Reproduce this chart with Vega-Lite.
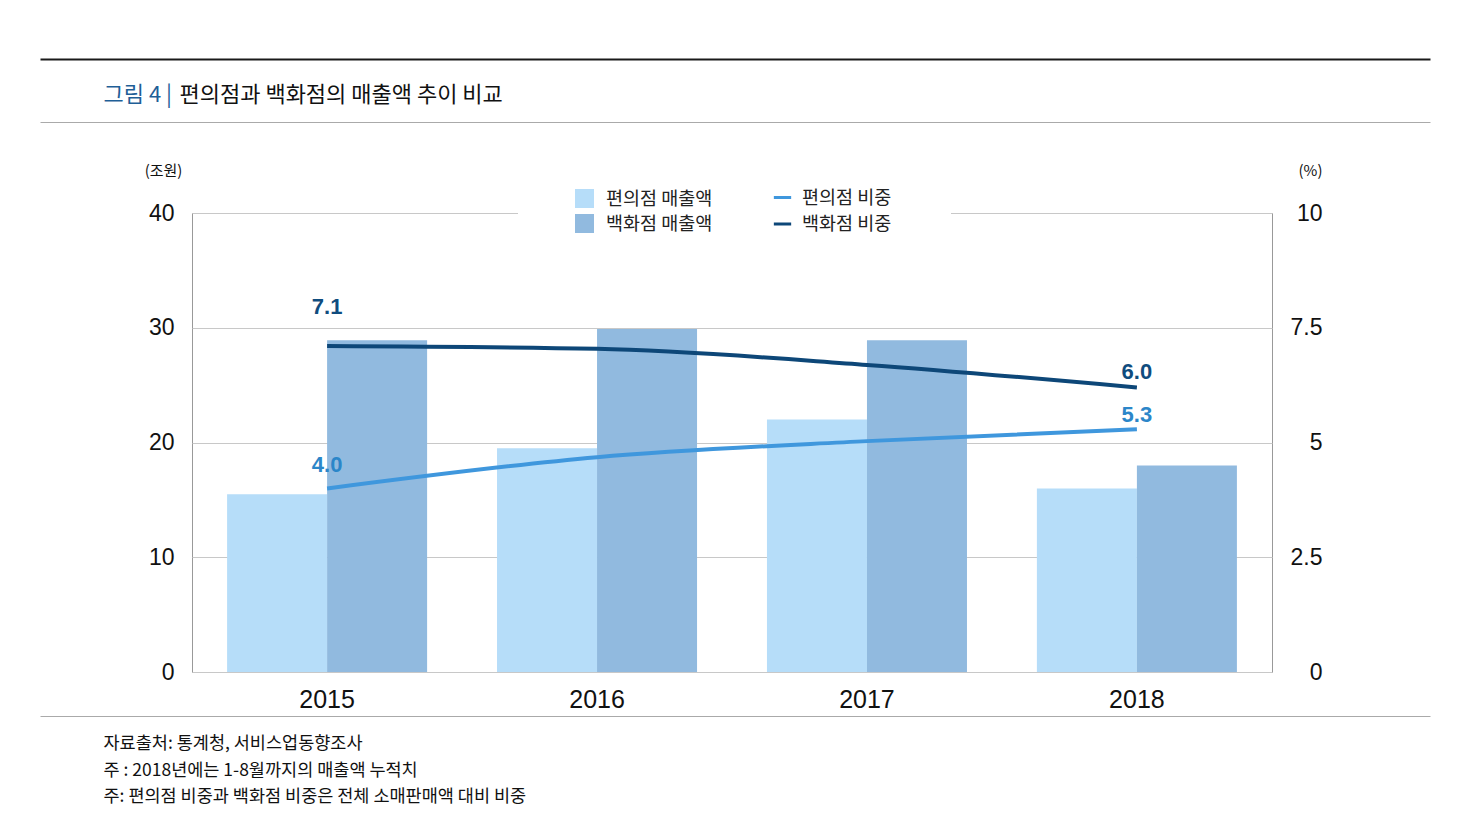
{
  "$schema": "https://vega.github.io/schema/vega-lite/v6.json",
  "autosize": {"type": "none"},
  "width": 1080,
  "height": 459,
  "padding": {"left": 192, "top": 213, "right": 200, "bottom": 156},
  "background": "white",
  "config": {
    "view": {"stroke": "#999999", "strokeWidth": 1},
    "axis": {
      "labelFont": "Liberation Sans",
      "labelColor": "#111111",
      "titleFont": "Noto Sans CJK KR",
      "titleFontWeight": "normal",
      "titleColor": "#111111"
    },
    "legend": {
      "labelFont": "Noto Sans CJK KR",
      "labelFontSize": 18.5,
      "labelColor": "#222222"
    }
  },
  "datasets": {
    "sales": [
      {"year": "2015", "type": "편의점 매출액", "value": 15.5},
      {"year": "2015", "type": "백화점 매출액", "value": 28.9},
      {"year": "2016", "type": "편의점 매출액", "value": 19.5},
      {"year": "2016", "type": "백화점 매출액", "value": 29.9},
      {"year": "2017", "type": "편의점 매출액", "value": 22.0},
      {"year": "2017", "type": "백화점 매출액", "value": 28.9},
      {"year": "2018", "type": "편의점 매출액", "value": 16.0},
      {"year": "2018", "type": "백화점 매출액", "value": 18.0}
    ],
    "share": [
      {"year": "2015", "series": "편의점 비중", "share": 4.0, "label": "4.0"},
      {"year": "2016", "series": "편의점 비중", "share": 4.68, "label": null},
      {"year": "2017", "series": "편의점 비중", "share": 5.03, "label": null},
      {"year": "2018", "series": "편의점 비중", "share": 5.29, "label": "5.3"},
      {"year": "2015", "series": "백화점 비중", "share": 7.1, "label": "7.1"},
      {"year": "2016", "series": "백화점 비중", "share": 7.04, "label": null},
      {"year": "2017", "series": "백화점 비중", "share": 6.69, "label": null},
      {"year": "2018", "series": "백화점 비중", "share": 6.2, "label": "6.0"}
    ]
  },
  "layer": [
    {
      "data": {"name": "sales"},
      "mark": {"type": "bar"},
      "encoding": {
        "x": {
          "field": "year",
          "type": "nominal",
          "scale": {"paddingInner": 0.259, "paddingOuter": 0.13},
          "axis": {
            "labelFontSize": 25,
            "labelPadding": 15,
            "labelAngle": 0,
            "ticks": false,
            "domain": false,
            "title": [
              "자료출처: 통계청, 서비스업동향조사",
              "주 : 2018년에는 1-8월까지의 매출액 누적치",
              "주: 편의점 비중과 백화점 비중은 전체 소매판매액 대비 비중"
            ],
            "titleFontSize": 17.5,
            "titleX": -89,
            "titleY": 62.5,
            "titleAlign": "left",
            "titleAnchor": "start",
            "titleBaseline": "top",
            "titleLineHeight": 26.5
          }
        },
        "xOffset": {"field": "type", "type": "nominal", "sort": ["편의점 매출액", "백화점 매출액"]},
        "y": {
          "field": "value",
          "type": "quantitative",
          "scale": {"domain": [0, 40]},
          "axis": {
            "values": [0, 10, 20, 30, 40],
            "labelFontSize": 23,
            "labelPadding": 18,
            "ticks": false,
            "domain": false,
            "grid": true,
            "gridColor": "#c8c8c8",
            "title": "(조원)",
            "titleAngle": 0,
            "titleX": -29,
            "titleY": -43,
            "titleAlign": "center",
            "titleBaseline": "middle",
            "titleFontSize": 15
          }
        },
        "color": {
          "field": "type",
          "type": "nominal",
          "sort": ["편의점 매출액", "백화점 매출액"],
          "scale": {"domain": ["편의점 매출액", "백화점 매출액"], "range": ["#b6ddf9", "#91badf"]},
          "legend": {
            "orient": "none",
            "legendX": 326,
            "legendY": -81,
            "title": null,
            "fillColor": "white",
            "padding": 57,
            "symbolType": "square",
            "symbolSize": 361,
            "symbolStrokeWidth": 0,
            "labelOffset": 12,
            "rowPadding": 6
          }
        }
      }
    },
    {
      "data": {"name": "share"},
      "mark": {"type": "line", "interpolate": "monotone", "strokeWidth": 4},
      "encoding": {
        "x": {"field": "year", "type": "nominal"},
        "y": {
          "field": "share",
          "type": "quantitative",
          "scale": {"domain": [0, 10]},
          "axis": {
            "orient": "right",
            "values": [0, 2.5, 5, 7.5, 10],
            "labelExpr": "'' + datum.value",
            "labelFontSize": 23,
            "labelAlign": "right",
            "labelPadding": 50,
            "ticks": false,
            "domain": false,
            "grid": false,
            "title": "(%)",
            "titleAngle": 0,
            "titleX": 38,
            "titleY": -43,
            "titleAlign": "center",
            "titleBaseline": "middle",
            "titleFontSize": 15
          }
        },
        "stroke": {
          "field": "series",
          "type": "nominal",
          "sort": ["편의점 비중", "백화점 비중"],
          "scale": {"domain": ["편의점 비중", "백화점 비중"], "range": ["#3f97dd", "#0d4778"]},
          "legend": {
            "orient": "none",
            "legendX": 521,
            "legendY": -85,
            "title": null,
            "fillColor": "white",
            "padding": 59,
            "symbolType": "stroke",
            "symbolSize": 300,
            "symbolStrokeWidth": 3,
            "labelOffset": 9,
            "rowPadding": 6.5
          }
        }
      }
    },
    {
      "data": {"name": "share"},
      "transform": [{"filter": "datum.year == '2015' && datum.series == '백화점 비중'"}],
      "mark": {"type": "text", "dy": -39, "font": "Liberation Sans", "fontWeight": "bold", "fontSize": 22, "color": "#0f4c7e"},
      "encoding": {
        "x": {"field": "year", "type": "nominal"},
        "y": {
          "field": "share",
          "type": "quantitative",
          "scale": {"domain": [0, 10]},
          "axis": {
            "orient": "left",
            "offset": -1238,
            "values": [10],
            "labels": false,
            "domain": false,
            "grid": false,
            "ticks": true,
            "tickOffset": -154,
            "tickSize": 1390,
            "tickColor": "#1a1a1a",
            "tickWidth": 2,
            "title": "그림 4 |",
            "titleFont": "Noto Sans CJK KR",
            "titleFontSize": 22,
            "titleColor": "#1f5f97",
            "titleAngle": 0,
            "titleX": -1327,
            "titleY": -119,
            "titleAlign": "left",
            "titleBaseline": "middle"
          }
        },
        "text": {"field": "label"}
      }
    },
    {
      "data": {"name": "share"},
      "transform": [{"filter": "datum.year == '2015' && datum.series == '편의점 비중'"}],
      "mark": {"type": "text", "dy": -23, "font": "Liberation Sans", "fontWeight": "bold", "fontSize": 22, "color": "#2b86c9"},
      "encoding": {
        "x": {"field": "year", "type": "nominal"},
        "y": {
          "field": "share",
          "type": "quantitative",
          "scale": {"domain": [0, 10]},
          "axis": {
            "orient": "left",
            "offset": -1238,
            "values": [10],
            "labels": false,
            "domain": false,
            "grid": false,
            "ticks": true,
            "tickOffset": -91,
            "tickSize": 1390,
            "tickColor": "#aaaaaa",
            "tickWidth": 1,
            "title": "편의점과 백화점의 매출액 추이 비교",
            "titleFont": "Noto Sans CJK KR",
            "titleFontSize": 22,
            "titleColor": "#111111",
            "titleAngle": 0,
            "titleX": -1251,
            "titleY": -119,
            "titleAlign": "left",
            "titleBaseline": "middle"
          }
        },
        "text": {"field": "label"}
      }
    },
    {
      "data": {"name": "share"},
      "transform": [{"filter": "datum.year == '2018' && datum.series == '백화점 비중'"}],
      "mark": {"type": "text", "dy": -15, "font": "Liberation Sans", "fontWeight": "bold", "fontSize": 22, "color": "#0f4c7e"},
      "encoding": {
        "x": {"field": "year", "type": "nominal"},
        "y": {
          "field": "share",
          "type": "quantitative",
          "scale": {"domain": [0, 10]},
          "axis": {
            "orient": "left",
            "offset": -1238,
            "values": [0],
            "labels": false,
            "domain": false,
            "grid": false,
            "ticks": true,
            "tickOffset": 43.5,
            "tickSize": 1390,
            "tickColor": "#aaaaaa",
            "tickWidth": 1,
            "title": null
          }
        },
        "text": {"field": "label"}
      }
    },
    {
      "data": {"name": "share"},
      "transform": [{"filter": "datum.year == '2018' && datum.series == '편의점 비중'"}],
      "mark": {"type": "text", "dy": -14, "font": "Liberation Sans", "fontWeight": "bold", "fontSize": 22, "color": "#2b86c9"},
      "encoding": {
        "x": {"field": "year", "type": "nominal"},
        "y": {"field": "share", "type": "quantitative", "scale": {"domain": [0, 10]}, "axis": null},
        "text": {"field": "label"}
      }
    }
  ],
  "resolve": {"scale": {"y": "independent"}}
}
